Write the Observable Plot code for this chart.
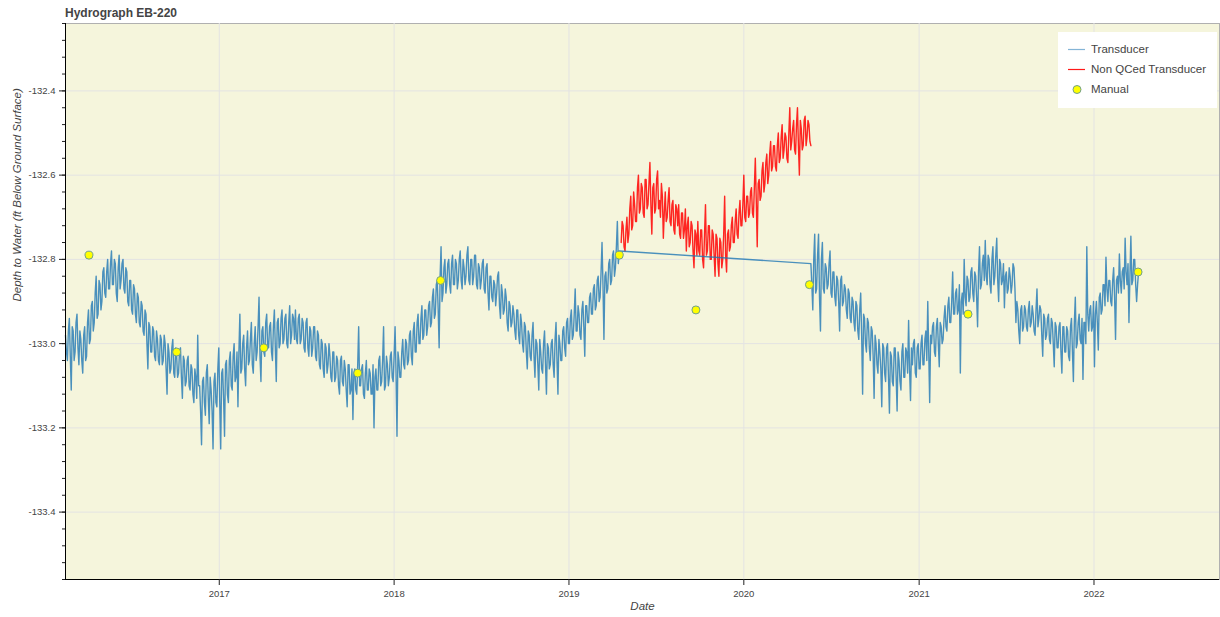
<!DOCTYPE html>
<html>
<head>
<meta charset="utf-8">
<script src="https://cdn.jsdelivr.net/npm/d3@7"></script>
<script src="https://cdn.jsdelivr.net/npm/@observablehq/plot@0.6"></script>
<style>
  html, body { margin: 0; padding: 0; background: #fff; }
  #wrap { position: relative; width: 1220px; height: 617px; font-family: "Liberation Sans", Arial, Helvetica, sans-serif; }
  #title { position: absolute; left: 65px; top: 6px; font-size: 12px; line-height: 14px; font-weight: bold; color: #444; }
  #legend { position: absolute; left: 1058px; top: 32px; width: 159px; height: 76px; background: #fff; }
  #legend .row { position: absolute; left: 0; height: 14px; font-size: 11.5px; line-height: 14px; color: #444; }
  #legend .row span { position: absolute; left: 33px; top: 0; white-space: nowrap; }
  #legend svg { position: absolute; left: 8px; top: 0; }
</style>
</head>
<body>
<div id="wrap">
  <div id="chart"></div>
  <div id="title">Hydrograph EB-220</div>
  <div id="legend"></div>
</div>
<script>
// ---- data (ft, depth to water) ----
const seriesNames = ["Transducer", "Non QCed Transducer", "Manual"];
const stepDays = 2;

// Transducer, part 1 (every 2 days from 2016-02-15)
const transducer1Start = "2016-02-15";
const transducer1 = [
  -132.98,-133.02,-133.04,-132.97,-132.94,-133.03,-133.11,-132.96,-132.97,-133.04,-133.02,-132.95,-132.93,-133.01,-133.05,-132.97,-132.99,-133.04,-133.07,-132.98,
  -132.96,-133.04,-133.03,-132.95,-132.92,-133.00,-132.99,-132.91,-132.90,-132.97,-132.95,-132.88,-132.84,-132.94,-132.93,-132.85,-132.86,-132.92,-132.90,-132.83,
  -132.82,-132.88,-132.89,-132.83,-132.80,-132.87,-132.87,-132.81,-132.78,-132.86,-132.86,-132.80,-132.81,-132.88,-132.90,-132.82,-132.79,-132.87,-132.85,-132.81,
  -132.80,-132.87,-132.88,-132.82,-132.83,-132.90,-132.91,-132.85,-132.85,-132.92,-132.93,-132.86,-132.87,-132.93,-132.95,-132.88,-132.89,-132.95,-132.96,-132.90,
  -132.91,-132.97,-132.98,-132.92,-132.93,-133.00,-133.06,-132.95,-132.96,-133.02,-133.02,-132.96,-132.97,-133.03,-133.04,-132.97,-132.99,-133.04,-133.05,-132.98,
  -132.99,-133.05,-133.04,-132.98,-133.00,-133.06,-133.12,-133.00,-133.02,-133.07,-133.06,-133.01,-132.99,-133.07,-133.08,-133.01,-133.03,-133.08,-133.07,-133.02,
  -133.01,-133.08,-133.13,-133.03,-133.04,-133.10,-133.09,-133.04,-133.03,-133.10,-133.11,-133.05,-133.06,-133.12,-133.14,-133.06,-133.08,-133.13,-132.98,-133.10,
  -133.10,-133.16,-133.24,-133.09,-133.08,-133.14,-133.17,-133.07,-133.05,-133.13,-133.19,-133.08,-133.11,-133.16,-133.25,-133.09,-133.07,-133.14,-133.15,-133.06,
  -133.01,-133.14,-133.25,-133.07,-133.06,-133.13,-133.22,-133.05,-133.04,-133.12,-133.14,-133.04,-133.02,-133.10,-133.11,-133.03,-133.00,-133.09,-133.08,-133.02,
  -133.15,-133.02,-132.93,-133.07,-133.06,-133.00,-132.98,-133.06,-133.10,-133.01,-132.97,-133.05,-133.04,-132.99,-132.95,-133.05,-133.07,-133.00,-132.96,-133.04,
  -133.02,-132.96,-132.89,-133.03,-133.09,-132.97,-132.96,-133.02,-133.03,-132.95,-132.93,-133.01,-133.01,-132.96,-132.95,-133.02,-133.04,-132.96,-132.92,-133.01,
  -133.09,-132.95,-132.94,-133.01,-133.00,-132.94,-132.92,-133.00,-132.99,-132.94,-132.93,-133.00,-133.01,-132.95,-132.91,-133.00,-132.98,-132.93,-132.94,-132.99,
  -132.92,-132.99,-133.00,-132.94,-132.93,-133.00,-132.99,-132.94,-132.95,-133.01,-133.02,-132.95,-132.94,-133.01,-133.03,-132.96,-132.97,-133.03,-133.01,-132.96,
  -132.96,-133.03,-133.04,-132.97,-132.98,-133.05,-133.06,-132.99,-133.00,-133.06,-133.08,-133.00,-133.01,-133.07,-133.05,-133.00,-133.03,-133.08,-133.09,-133.02,
  -133.02,-133.09,-133.08,-133.03,-133.04,-133.10,-133.12,-133.04,-133.03,-133.09,-133.10,-133.04,-133.06,-133.11,-133.15,-133.05,-133.05,-133.12,-133.11,-133.06,
  -133.18,-133.07,-133.06,-133.11,-133.12,-133.05,-132.96,-133.10,-133.10,-133.06,-133.05,-133.12,-133.13,-133.07,-133.04,-133.11,-133.11,-133.06,-133.07,-133.12,
  -133.12,-133.05,-133.20,-133.08,-133.06,-133.11,-133.11,-133.04,-133.03,-133.10,-133.09,-133.04,-132.96,-133.11,-133.10,-133.03,-133.05,-133.10,-133.08,-133.03,
  -133.02,-133.08,-133.09,-133.03,-132.96,-133.07,-133.22,-133.02,-133.04,-133.08,-133.08,-133.02,-132.99,-133.05,-133.06,-132.99,-133.00,-133.05,-133.04,-132.98,
  -132.97,-133.03,-133.05,-132.97,-132.95,-133.02,-133.02,-132.95,-132.93,-133.00,-133.00,-132.94,-132.91,-132.99,-132.98,-132.92,-132.92,-132.98,-132.96,-132.91,
  -132.90,-132.96,-132.95,-132.89,-132.87,-132.94,-132.93,-132.86,-132.85,-132.92,-133.01,-132.84,-132.77,-132.90,-132.88,-132.82,-132.80,-132.88,-132.86,-132.81,
  -132.80,-132.86,-132.88,-132.81,-132.79,-132.86,-132.86,-132.80,-132.81,-132.87,-132.85,-132.80,-132.78,-132.85,-132.87,-132.80,-132.82,-132.86,-132.84,-132.79,
  -132.77,-132.85,-132.86,-132.80,-132.80,-132.86,-132.84,-132.79,-132.79,-132.86,-132.87,-132.81,-132.82,-132.87,-132.85,-132.81,-132.80,-132.87,-132.88,-132.82,
  -132.81,-132.88,-132.92,-132.84,-132.84,-132.89,-132.90,-132.85,-132.86,-132.91,-132.88,-132.84,-132.83,-132.91,-132.94,-132.86,-132.88,-132.93,-132.92,-132.87,
  -132.89,-132.95,-132.97,-132.90,-132.91,-132.96,-132.95,-132.91,-132.93,-132.97,-132.99,-132.92,-132.92,-132.98,-133.00,-132.93,-132.95,-133.00,-133.02,-132.95,
  -132.96,-133.02,-133.06,-132.97,-132.98,-133.03,-133.04,-132.98,-132.95,-133.03,-133.08,-132.99,-133.00,-133.05,-133.11,-132.99,-133.02,-133.06,-133.07,-133.00,
  -132.97,-133.05,-133.12,-133.00,-133.01,-133.06,-133.05,-133.00,-132.99,-133.05,-133.08,-132.99,-132.95,-133.04,-133.12,-132.98,-133.00,-133.04,-133.04,-132.97,
  -132.96,-133.01,-133.03,-132.95,-132.94,-133.00,-133.00,-132.94,-132.92,-132.99,-132.98,-132.93,-132.87,-132.97,-132.97,-132.91,-132.93,-132.98,-132.99,-132.92,
  -132.90,-132.96,-133.03,-132.91,-132.91,-132.95,-132.95,-132.89,-132.88,-132.93,-132.93,-132.87,-132.86,-132.92,-132.91,-132.85,-132.84,-132.90,-132.89,-132.83,
  -132.76,-132.86,-132.99,-132.84,-132.83,-132.88,-132.87,-132.81,-132.80,-132.86,-132.85,-132.79,-132.78,-132.84,-132.82,-132.77,-132.71,-132.81,-132.78
];

// Transducer, part 2 (every 2 days from 2020-05-20)
const transducer2Start = "2020-05-20";
const transducer2 = [
  -132.81,-132.86,-132.92,-132.80,-132.74,-132.88,-132.87,-132.79,-132.74,-132.89,-132.97,-132.80,-132.76,-132.87,-132.88,-132.81,-132.82,-132.87,-132.86,-132.81,
  -132.78,-132.88,-132.89,-132.83,-132.83,-132.89,-132.91,-132.84,-132.85,-132.90,-132.97,-132.85,-132.84,-132.91,-132.90,-132.86,-132.87,-132.92,-132.94,-132.87,
  -132.88,-132.94,-132.95,-132.89,-132.90,-132.95,-132.97,-132.90,-132.91,-132.97,-132.99,-132.92,-132.88,-132.98,-133.12,-132.93,-132.94,-133.00,-133.02,-132.94,
  -132.95,-133.01,-133.04,-132.96,-132.97,-133.03,-133.13,-132.98,-133.00,-133.05,-133.07,-132.99,-133.02,-133.06,-133.15,-133.00,-133.01,-133.07,-133.09,-133.01,
  -133.00,-133.08,-133.165,-133.02,-133.03,-133.09,-133.10,-133.01,-133.01,-133.08,-133.16,-133.02,-133.04,-133.09,-133.11,-133.02,-133.00,-133.08,-133.08,-133.01,
  -133.02,-133.07,-132.945,-133.06,-133.135,-133.01,-133.05,-133.00,-132.99,-133.07,-133.08,-133.01,-133.00,-133.06,-133.06,-133.00,-132.98,-133.05,-133.05,-132.99,
  -132.97,-133.04,-132.90,-133.02,-133.14,-132.98,-133.00,-132.96,-132.95,-133.02,-133.03,-132.96,-132.94,-133.00,-133.055,-132.95,-132.96,-133.00,-132.99,-132.94,
  -132.91,-132.96,-132.97,-132.91,-132.89,-132.95,-132.95,-132.90,-132.83,-132.93,-132.93,-132.88,-132.87,-132.93,-132.92,-132.86,-133.07,-132.90,-132.88,-132.93,
  -132.80,-132.89,-132.91,-132.84,-132.85,-132.90,-132.89,-132.83,-132.82,-132.88,-132.90,-132.83,-132.84,-132.89,-132.96,-132.83,-132.77,-132.87,-132.86,-132.81,
  -132.79,-132.85,-132.755,-132.84,-132.86,-132.79,-132.80,-132.86,-132.88,-132.80,-132.77,-132.86,-132.84,-132.79,-132.75,-132.85,-132.90,-132.80,-132.81,-132.86,
  -132.85,-132.81,-132.915,-132.84,-132.83,-132.88,-132.87,-132.82,-132.84,-132.88,-132.86,-132.81,-132.82,-132.87,-132.95,-132.90,-132.92,-132.97,-133.00,-132.92,
  -132.91,-132.97,-132.96,-132.91,-132.92,-132.96,-132.97,-132.92,-132.90,-132.96,-132.95,-132.91,-132.93,-132.97,-132.98,-132.92,-132.87,-132.96,-132.94,-132.91,
  -132.92,-132.98,-133.03,-132.93,-132.94,-132.99,-132.98,-132.94,-132.93,-132.99,-133.00,-132.94,-132.95,-133.00,-133.055,-132.95,-132.96,-133.01,-133.01,-132.96,
  -132.95,-133.02,-133.07,-132.96,-132.96,-133.02,-133.02,-132.96,-132.97,-133.03,-133.04,-132.96,-132.94,-133.02,-133.09,-132.95,-132.89,-133.01,-133.00,-132.95,
  -132.93,-132.99,-133.00,-132.94,-133.085,-132.95,-132.95,-133.00,-132.77,-132.93,-132.97,-132.92,-132.91,-132.97,-132.96,-132.90,-133.055,-132.93,-132.90,-132.95,
  -133.015,-132.89,-132.88,-132.93,-132.92,-132.86,-132.86,-132.91,-132.795,-132.87,-132.90,-132.85,-132.85,-132.90,-132.91,-132.85,-132.82,-132.89,-132.99,-132.85,
  -132.84,-132.88,-132.787,-132.85,-132.88,-132.83,-132.82,-132.87,-132.75,-132.83,-132.86,-132.81,-132.95,-132.84,-132.745,-132.86,-132.85,-132.80,-132.80,-132.86,
  -132.90,-132.86,-132.83
];

// Non QCed transducer (every 2 days from 2019-04-20)
const nonQcStart = "2019-04-20";
const nonQc = [
  -132.76,-132.71,-132.72,-132.77,-132.78,-132.73,-132.70,-132.76,-132.74,-132.68,-132.65,-132.73,-132.72,-132.64,-132.67,-132.71,-132.71,-132.63,-132.60,-132.69,
  -132.68,-132.62,-132.63,-132.69,-132.70,-132.61,-132.61,-132.68,-132.67,-132.62,-132.57,-132.67,-132.74,-132.63,-132.62,-132.69,-132.68,-132.61,-132.59,-132.68,
  -132.66,-132.70,-132.62,-132.65,-132.75,-132.69,-132.64,-132.71,-132.70,-132.66,-132.63,-132.71,-132.72,-132.67,-132.66,-132.73,-132.74,-132.67,-132.68,-132.72,
  -132.67,-132.74,-132.75,-132.69,-132.69,-132.75,-132.73,-132.68,-132.78,-132.72,-132.70,-132.77,-132.76,-132.71,-132.72,-132.78,-132.82,-132.73,-132.74,-132.79,
  -132.71,-132.78,-132.79,-132.73,-132.73,-132.80,-132.82,-132.74,-132.67,-132.79,-132.78,-132.72,-132.72,-132.80,-132.80,-132.73,-132.74,-132.79,-132.84,-132.74,
  -132.75,-132.81,-132.84,-132.75,-132.76,-132.82,-132.80,-132.74,-132.65,-132.79,-132.83,-132.74,-132.73,-132.78,-132.77,-132.72,-132.70,-132.76,-132.76,-132.71,
  -132.68,-132.74,-132.75,-132.69,-132.66,-132.72,-132.72,-132.67,-132.60,-132.70,-132.71,-132.65,-132.65,-132.70,-132.69,-132.64,-132.63,-132.69,-132.70,-132.63,
  -132.56,-132.66,-132.77,-132.62,-132.61,-132.66,-132.65,-132.59,-132.57,-132.64,-132.62,-132.57,-132.55,-132.62,-132.60,-132.55,-132.52,-132.59,-132.58,-132.53,
  -132.53,-132.58,-132.59,-132.53,-132.50,-132.57,-132.56,-132.51,-132.48,-132.56,-132.54,-132.50,-132.51,-132.56,-132.57,-132.50,-132.44,-132.54,-132.52,-132.49,
  -132.47,-132.54,-132.55,-132.48,-132.44,-132.53,-132.60,-132.47,-132.49,-132.54,-132.53,-132.47,-132.46,-132.53,-132.51,-132.47,-132.48,-132.52,-132.53
];

// Manual measurements
const manualDates = ["2016-04-04","2016-10-04","2017-04-04","2017-10-17","2018-04-08",
                     "2019-04-16","2019-09-23","2020-05-17","2021-04-13","2022-04-03"];
const manualValues = [-132.79,-133.02,-133.01,-133.07,-132.85,-132.79,-132.92,-132.86,-132.93,-132.83];

// axes
const yTicks = [-132.4, -132.6, -132.8, -133.0, -133.2, -133.4];
const xTickLabels = ["2017", "2018", "2019", "2020", "2021", "2022"];
const xDomain = ["2016-02-15", "2022-09-20"];
const yDomain = [-133.56, -132.24];

// ---- build tables ----
const toRows = (start, vals) => vals.map((v, i) => ({date: d3.utcDay.offset(new Date(start), i * stepDays), value: v}));
const blue = toRows(transducer1Start, transducer1).concat(toRows(transducer2Start, transducer2));
const red = toRows(nonQcStart, nonQc);
const manual = manualDates.map((d, i) => ({date: new Date(d), value: manualValues[i]}));
const years = xTickLabels.map(y => new Date(y + "-01-01"));
const yMinor = d3.range(0, 34).map(k => +(yDomain[0] + k * 0.04).toFixed(2));
const x0 = new Date(xDomain[0]), x1 = new Date(xDomain[1]);

const chart = Plot.plot({
  width: 1220,
  height: 617,
  marginTop: 23,
  marginBottom: 38,
  marginLeft: 65,
  marginRight: 1,
  style: {fontFamily: '"Liberation Sans", Arial, Helvetica, sans-serif', fontSize: "9.5px", color: "#444", background: "transparent", overflow: "visible"},
  x: {type: "utc", domain: [x0, x1]},
  y: {domain: yDomain},
  marks: [
    Plot.frame({fill: "#f5f5dc", stroke: "#b0b0b0"}),
    Plot.gridX(years, {stroke: "#e3e3e3", strokeOpacity: 1}),
    Plot.gridY(yTicks, {stroke: "#e3e3e3", strokeOpacity: 1}),
    Plot.lineY(red, {x: "date", y: "value", stroke: "#ff0000", strokeWidth: 1.4, strokeOpacity: 0.85}),
    Plot.lineY(blue, {x: "date", y: "value", stroke: "#1f77b4", strokeWidth: 1.4, strokeOpacity: 0.8}),
    Plot.dot(manual, {x: "date", y: "value", r: 4, fill: "#ffff00", stroke: "#6f9f8f", strokeWidth: 1}),
    Plot.ruleX([x0], {stroke: "#000", strokeWidth: 1}),
    Plot.ruleY([yDomain[0]], {stroke: "#000", strokeWidth: 1}),
    Plot.axisY(yMinor, {tickSize: 3, tickFormat: () => "", label: null, stroke: "#222"}),
    Plot.axisY(yTicks, {tickSize: 6, tickPadding: 4, tickFormat: d => d.toFixed(1), label: null, stroke: "#222", fill: "#444"}),
    Plot.axisX(years, {tickSize: 6, tickPadding: 5, tickFormat: d => String(d.getUTCFullYear()), label: null, stroke: "#222", fill: "#444"}),
    Plot.text(["Depth to Water (ft Below Ground Surface)"], {text: d => d, frameAnchor: "left", rotate: -90, dx: -48, fontStyle: "italic", fontSize: 11.5, fill: "#444"}),
    Plot.text(["Date"], {text: d => d, frameAnchor: "bottom", dy: 30, fontStyle: "italic", fontSize: 11.5, fill: "#444"})
  ]
});
document.getElementById("chart").appendChild(chart);

// ---- legend ----
const legend = document.getElementById("legend");
const legendRows = [
  {name: seriesNames[0], kind: "line", color: "#1f77b4", opacity: 0.55, top: 10},
  {name: seriesNames[1], kind: "line", color: "#ff0000", opacity: 0.9, top: 30},
  {name: seriesNames[2], kind: "dot", color: "#ffff00", opacity: 1, top: 50}
];
for (const r of legendRows) {
  const row = document.createElement("div");
  row.className = "row";
  row.style.top = r.top + "px";
  row.style.width = "159px";
  const glyph = r.kind === "line"
    ? `<svg width="20" height="14"><line x1="2" x2="19" y1="7.5" y2="7.5" stroke="${r.color}" stroke-opacity="${r.opacity}" stroke-width="1.2"/></svg>`
    : `<svg width="20" height="14"><circle cx="11" cy="7.5" r="4" fill="${r.color}" stroke="#6f9f8f" stroke-width="1"/></svg>`;
  row.innerHTML = glyph + `<span>${r.name}</span>`;
  legend.appendChild(row);
}
</script>
</body>
</html>
